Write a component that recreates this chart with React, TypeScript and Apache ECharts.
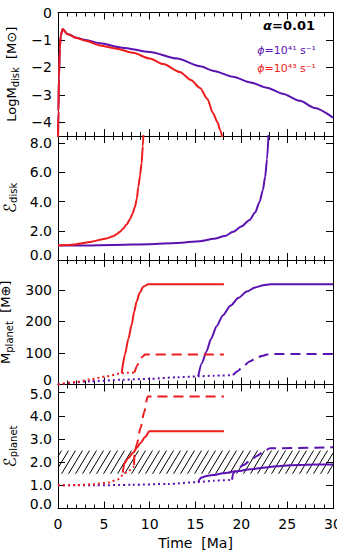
import React, { useEffect, useRef } from "react";
import * as echarts from "echarts";

const FONT = "DejaVu Sans";
const RED = "#ee1c1c";
const PURPLE = "#5a12b0";

// Shared time axis (Ma)
const timeMin = 0;
const timeMax = 30;

// Panel 1: log disk mass [Msun]
const massRedT = [0, 0.05, 0.1, 0.2, 0.3, 0.5, 1, 2, 3, 4.6, 6.4, 8.2, 10, 11.5, 13.3, 14.5, 15.5, 16.3, 16.9, 17.4, 17.7, 17.95];
const massRed = [-4.6, -3.6, -2.4, -1.3, -0.85, -0.6, -0.78, -0.93, -1.03, -1.2, -1.32, -1.47, -1.68, -1.88, -2.17, -2.46, -2.75, -3.15, -3.66, -4.0, -4.29, -4.6];
const massPurpleT = [0, 0.05, 0.1, 0.2, 0.3, 0.5, 1, 2, 3, 4.6, 7, 10, 13, 15.5, 17, 19.1, 21, 22.8, 24.5, 26.4, 28, 30];
const massPurple = [-4.6, -3.6, -2.4, -1.3, -0.85, -0.6, -0.77, -0.92, -1.0, -1.12, -1.28, -1.44, -1.68, -1.96, -2.13, -2.34, -2.55, -2.74, -2.96, -3.22, -3.48, -3.83];

// Panel 2: disk energy ratio
const eDiskRedT = [0, 1, 2, 3.5, 5.3, 6.0, 6.4, 6.76, 7.1, 7.5, 7.85, 8.15, 8.4, 8.6, 8.76, 8.95, 9.12, 9.25, 9.35];
const eDiskRed = [1.0, 1.02, 1.08, 1.24, 1.48, 1.62, 1.77, 1.93, 2.15, 2.45, 2.8, 3.2, 3.65, 4.2, 5.0, 5.8, 6.65, 7.8, 9.0];
const eDiskPurpleT = [0, 3, 6, 10, 13, 15.5, 17, 18.2, 19.1, 20, 20.9, 21.5, 22.0, 22.35, 22.6, 22.8, 23.0];
const eDiskPurple = [1.0, 1.0, 1.03, 1.08, 1.17, 1.29, 1.45, 1.64, 1.93, 2.3, 2.74, 3.25, 4.0, 4.8, 5.7, 6.9, 9.0];

// Panel 3: planet mass [Mearth]
const mRedDotT = [0, 2, 3.5, 5.3, 6.95, 7.6, 8.35];
const mRedDot = [0, 8, 16, 26, 36, 37, 38];
const mRedSolidT = [6.95, 7.3, 7.67, 8.04, 8.3, 8.58, 8.9, 9.3, 9.85, 18.1];
const mRedSolid = [36, 95, 144, 190, 230, 263, 290, 310, 318, 318];
const mRedDashT = [8.35, 8.6, 8.9, 9.2, 9.5, 18.1];
const mRedDash = [38, 58, 74, 88, 95, 95];
const mPurpleDotT = [0, 3.5, 7, 10, 13, 15.3, 17, 19.1];
const mPurpleDot = [0, 10, 15, 18, 23, 26, 28, 30];
const mPurpleSolidT = [15.3, 15.7, 16.2, 16.7, 17.3, 18.0, 18.8, 19.7, 20.6, 21.5, 22.4, 23.2, 30];
const mPurpleSolid = [26, 68, 105, 145, 185, 220, 250, 275, 295, 308, 315, 318, 318];
const mPurpleDashT = [19.1, 19.6, 20.2, 20.9, 21.7, 22.3, 22.8, 23.5, 30];
const mPurpleDash = [30, 42, 58, 73, 85, 91, 95, 97, 97];

// Panel 4: planet energy ratio
const ePlanetBand = [1.5, 2.5];
const ePRedDotT = [0, 2, 4, 5.5, 6.5, 7.0, 7.6, 8.3];
const ePRedDot = [1.0, 1.01, 1.05, 1.12, 1.25, 1.42, 1.6, 1.83];
const ePRedSolidT = [7.06, 7.25, 7.6, 8.2, 8.6, 9.0, 9.5, 9.96, 18.1];
const ePRedSolid = [1.55, 1.95, 2.15, 2.4, 2.62, 2.83, 3.08, 3.33, 3.33];
const ePRedDashT = [8.3, 8.34, 8.6, 9.0, 9.4, 9.78, 18.1];
const ePRedDash = [1.88, 2.33, 2.78, 3.47, 4.16, 4.83, 4.83];
const ePPurpleDotT = [0, 4, 8, 12, 15.3, 17, 19.0];
const ePPurpleDot = [1.0, 1.0, 1.02, 1.06, 1.14, 1.2, 1.24];
const ePPurpleSolidT = [15.3, 15.45, 15.6, 16.2, 16.9, 18, 19.5, 21, 22.4, 23.8, 25.3, 27, 30];
const ePPurpleSolid = [1.14, 1.25, 1.33, 1.4, 1.44, 1.52, 1.61, 1.69, 1.76, 1.82, 1.87, 1.89, 1.9];
const ePPurpleDashT = [19.0, 19.08, 19.5, 20.2, 20.9, 21.7, 22.5, 23.1, 30];
const ePPurpleDash = [1.24, 1.5, 1.69, 1.87, 2.04, 2.27, 2.47, 2.6, 2.64];

// Tick values for each panel's y axis
const massTicks = [-4, -3, -2, -1, 0];
const eDiskTicks = [0, 2, 4, 6, 8];
const mPlanetTicks = [0, 100, 200, 300];
const ePlanetTicks = [0, 1, 2, 3, 4, 5];

const pairs = (t: number[], v: number[]) => t.map((x, i) => [x, v[i]]);

const grids = [
  { top: 12.5, height: 123.5 },
  { top: 136, height: 124 },
  { top: 260, height: 124.5 },
  { top: 384.5, height: 124 },
];

// the lowest label of a panel sits a little above its tick, the highest a little below
const lowLabel = (s: string) => "{lo|" + s + "}";
const highLabel = (s: string) => "{hi|" + s + "}";

const yRanges = [
  { min: -4.5, max: 0, ticks: massTicks, fmt: (v: number) => (v === 0 ? "0" : "\u2212" + Math.abs(v)) },
  { min: 0, max: 8.5, ticks: eDiskTicks, fmt: (v: number) => (v === 0 ? lowLabel("0.0") : v.toFixed(1)) },
  { min: 0, max: 395, ticks: mPlanetTicks, fmt: (v: number) => (v === 0 ? lowLabel("0") : String(v)) },
  {
    min: 0,
    max: 5.35,
    ticks: ePlanetTicks,
    fmt: (v: number) => (v === 0 ? lowLabel("0.0") : v === 5 ? highLabel("5.0") : v.toFixed(1)),
  },
];

const yNames = [
  "LogM{s|disk}  [M\u2299]",
  "{e|\u2130}{s|disk}",
  "M{s|planet}  [M\u2295]",
  "{e|\u2130}{s|planet}",
];

function App() {
  const ref = useRef<HTMLDivElement>(null);

  useEffect(() => {
    if (!ref.current) return;
    const chart = echarts.init(ref.current, null, { renderer: "svg" });

    const tickStyle = { color: "#000", width: 1 };
    const xAxes: any[] = [];
    const yAxes: any[] = [];
    grids.forEach((_, i) => {
      ["bottom", "top"].forEach((pos) => {
        const labelled = pos === "bottom" && i === 3;
        xAxes.push({
          type: "value",
          gridIndex: i,
          position: pos,
          min: timeMin,
          max: timeMax,
          interval: 5,
          name: labelled ? "Time  [Ma]" : "",
          nameLocation: "middle",
          nameGap: 27,
          nameTextStyle: { fontFamily: FONT, fontSize: 14, color: "#000" },
          axisLine: { show: true, onZero: false, lineStyle: tickStyle },
          axisTick: { show: true, inside: true, length: 7, lineStyle: tickStyle },
          minorTick: { show: true, splitNumber: 5, length: 4, lineStyle: tickStyle },
          splitLine: { show: false },
          axisLabel: {
            show: labelled,
            margin: 8,
            fontFamily: FONT,
            fontSize: 14,
            color: "#000",
          },
        });
      });
      const yr = yRanges[i];
      ["left", "right"].forEach((pos) => {
        const left = pos === "left";
        yAxes.push({
          type: "value",
          gridIndex: i,
          position: pos,
          min: yr.min,
          max: yr.max,
          name: left ? yNames[i] : "",
          nameLocation: "middle",
          nameRotate: 90,
          nameGap: 32,
          nameTextStyle: {
            fontFamily: FONT,
            fontSize: 13,
            color: "#000",
            lineHeight: 17,
            rich: {
              s: { fontFamily: FONT, fontSize: 10, color: "#000", lineHeight: 9, verticalAlign: "bottom" },
              e: { fontFamily: FONT, fontSize: 17, color: "#000", lineHeight: 17 },
            },
          },
          axisLine: { show: true, onZero: false, lineStyle: tickStyle },
          axisTick: { show: true, inside: true, length: 7, lineStyle: tickStyle, customValues: yr.ticks },
          splitLine: { show: false },
          axisLabel: {
            show: left,
            customValues: yr.ticks,
            formatter: yr.fmt,
            margin: 6,
            fontFamily: FONT,
            fontSize: 14,
            color: "#000",
            rich: {
              lo: { fontFamily: FONT, fontSize: 14, color: "#000", padding: [0, 0, 10, 0] },
              hi: { fontFamily: FONT, fontSize: 14, color: "#000", padding: [2, 0, 0, 0] },
            },
          },
        });
      });
    });

    const line = (panel: number, t: number[], v: number[], color: string, type: any, z = 3) => ({
      type: "line",
      xAxisIndex: panel * 2,
      yAxisIndex: panel * 2,
      data: pairs(t, v),
      showSymbol: false,
      symbol: "none",
      smooth: 0.25,
      smoothMonotone: "x",
      clip: true,
      z,
      lineStyle: { color, width: 2, type },
    });

    const dotted = [2, 3];
    const dashed = [10, 6];

    // diagonal hatching over the planet energy band
    const hatch = {
      type: "custom",
      xAxisIndex: 6,
      yAxisIndex: 6,
      z: 1,
      silent: true,
      data: [[timeMin, timeMax, ePlanetBand[0], ePlanetBand[1]]],
      renderItem: (_params: any, api: any) => {
        const p0 = api.coord([api.value(0), api.value(3)]);
        const p1 = api.coord([api.value(1), api.value(2)]);
        const xL = p0[0], yT = p0[1], xR = p1[0], yB = p1[1];
        const H = yB - yT;
        const k = 0.6;
        const step = 7;
        const children: any[] = [];
        for (let xb = xL - H * k + step / 2; xb < xR; xb += step) {
          let x1 = xb, y1 = yB, x2 = xb + H * k, y2 = yT;
          if (x1 < xL) {
            y1 = yB - (xL - x1) / k;
            x1 = xL;
          }
          if (x2 > xR) {
            y2 = yB - (xR - xb) / k;
            x2 = xR;
          }
          children.push({
            type: "line",
            shape: { x1, y1, x2, y2 },
            style: { stroke: "#000", lineWidth: 1 },
          });
        }
        return { type: "group", children };
      },
    };

    chart.setOption({
      animation: false,
      grid: grids.map((g) => ({
        left: 58,
        right: 4,
        top: g.top,
        height: g.height,
        containLabel: false,
        outerBoundsMode: "none",
      })),
      xAxis: xAxes,
      yAxis: yAxes,
      graphic: [
        {
          type: "text",
          right: 22,
          top: 19,
          style: {
            text: "{a|\u03b1}=0.01",
            fontFamily: FONT,
            fontSize: 13,
            fontWeight: "bold",
            fill: "#000",
            rich: { a: { fontFamily: FONT, fontSize: 13, fontWeight: "bold", fontStyle: "italic", fill: "#000" } },
          },
        },
        {
          type: "text",
          right: 21,
          top: 45,
          style: {
            text: "{p|\u03d5}=10\u2074\u00b9 s\u207b\u00b9",
            fontFamily: FONT,
            fontSize: 11,
            fill: PURPLE,
            rich: { p: { fontFamily: FONT, fontSize: 11, fontStyle: "italic", fill: PURPLE } },
          },
        },
        {
          type: "text",
          right: 21,
          top: 63,
          style: {
            text: "{p|\u03d5}=10\u2074\u00b3 s\u207b\u00b9",
            fontFamily: FONT,
            fontSize: 11,
            fill: RED,
            rich: { p: { fontFamily: FONT, fontSize: 11, fontStyle: "italic", fill: RED } },
          },
        },
      ],
      series: [
        line(0, massPurpleT, massPurple, PURPLE, "solid"),
        line(0, massRedT, massRed, RED, "solid", 4),
        line(1, eDiskPurpleT, eDiskPurple, PURPLE, "solid"),
        line(1, eDiskRedT, eDiskRed, RED, "solid", 4),
        line(2, mPurpleDotT, mPurpleDot, PURPLE, dotted),
        line(2, mPurpleSolidT, mPurpleSolid, PURPLE, "solid"),
        line(2, mPurpleDashT, mPurpleDash, PURPLE, dashed),
        line(2, mRedDotT, mRedDot, RED, dotted),
        line(2, mRedSolidT, mRedSolid, RED, "solid"),
        line(2, mRedDashT, mRedDash, RED, dashed),
        hatch,
        line(3, ePPurpleDotT, ePPurpleDot, PURPLE, dotted),
        line(3, ePPurpleSolidT, ePPurpleSolid, PURPLE, "solid"),
        line(3, ePPurpleDashT, ePPurpleDash, PURPLE, dashed),
        line(3, ePRedDotT, ePRedDot, RED, dotted),
        line(3, ePRedSolidT, ePRedSolid, RED, "solid"),
        line(3, ePRedDashT, ePRedDash, RED, dashed),
      ],
    });

    return () => chart.dispose();
  }, []);

  return (
    <div
      ref={ref}
      style={{ position: "absolute", left: 0, top: 0, width: 337, height: 551, background: "#fff" }}
    />
  );
}

export default App;
